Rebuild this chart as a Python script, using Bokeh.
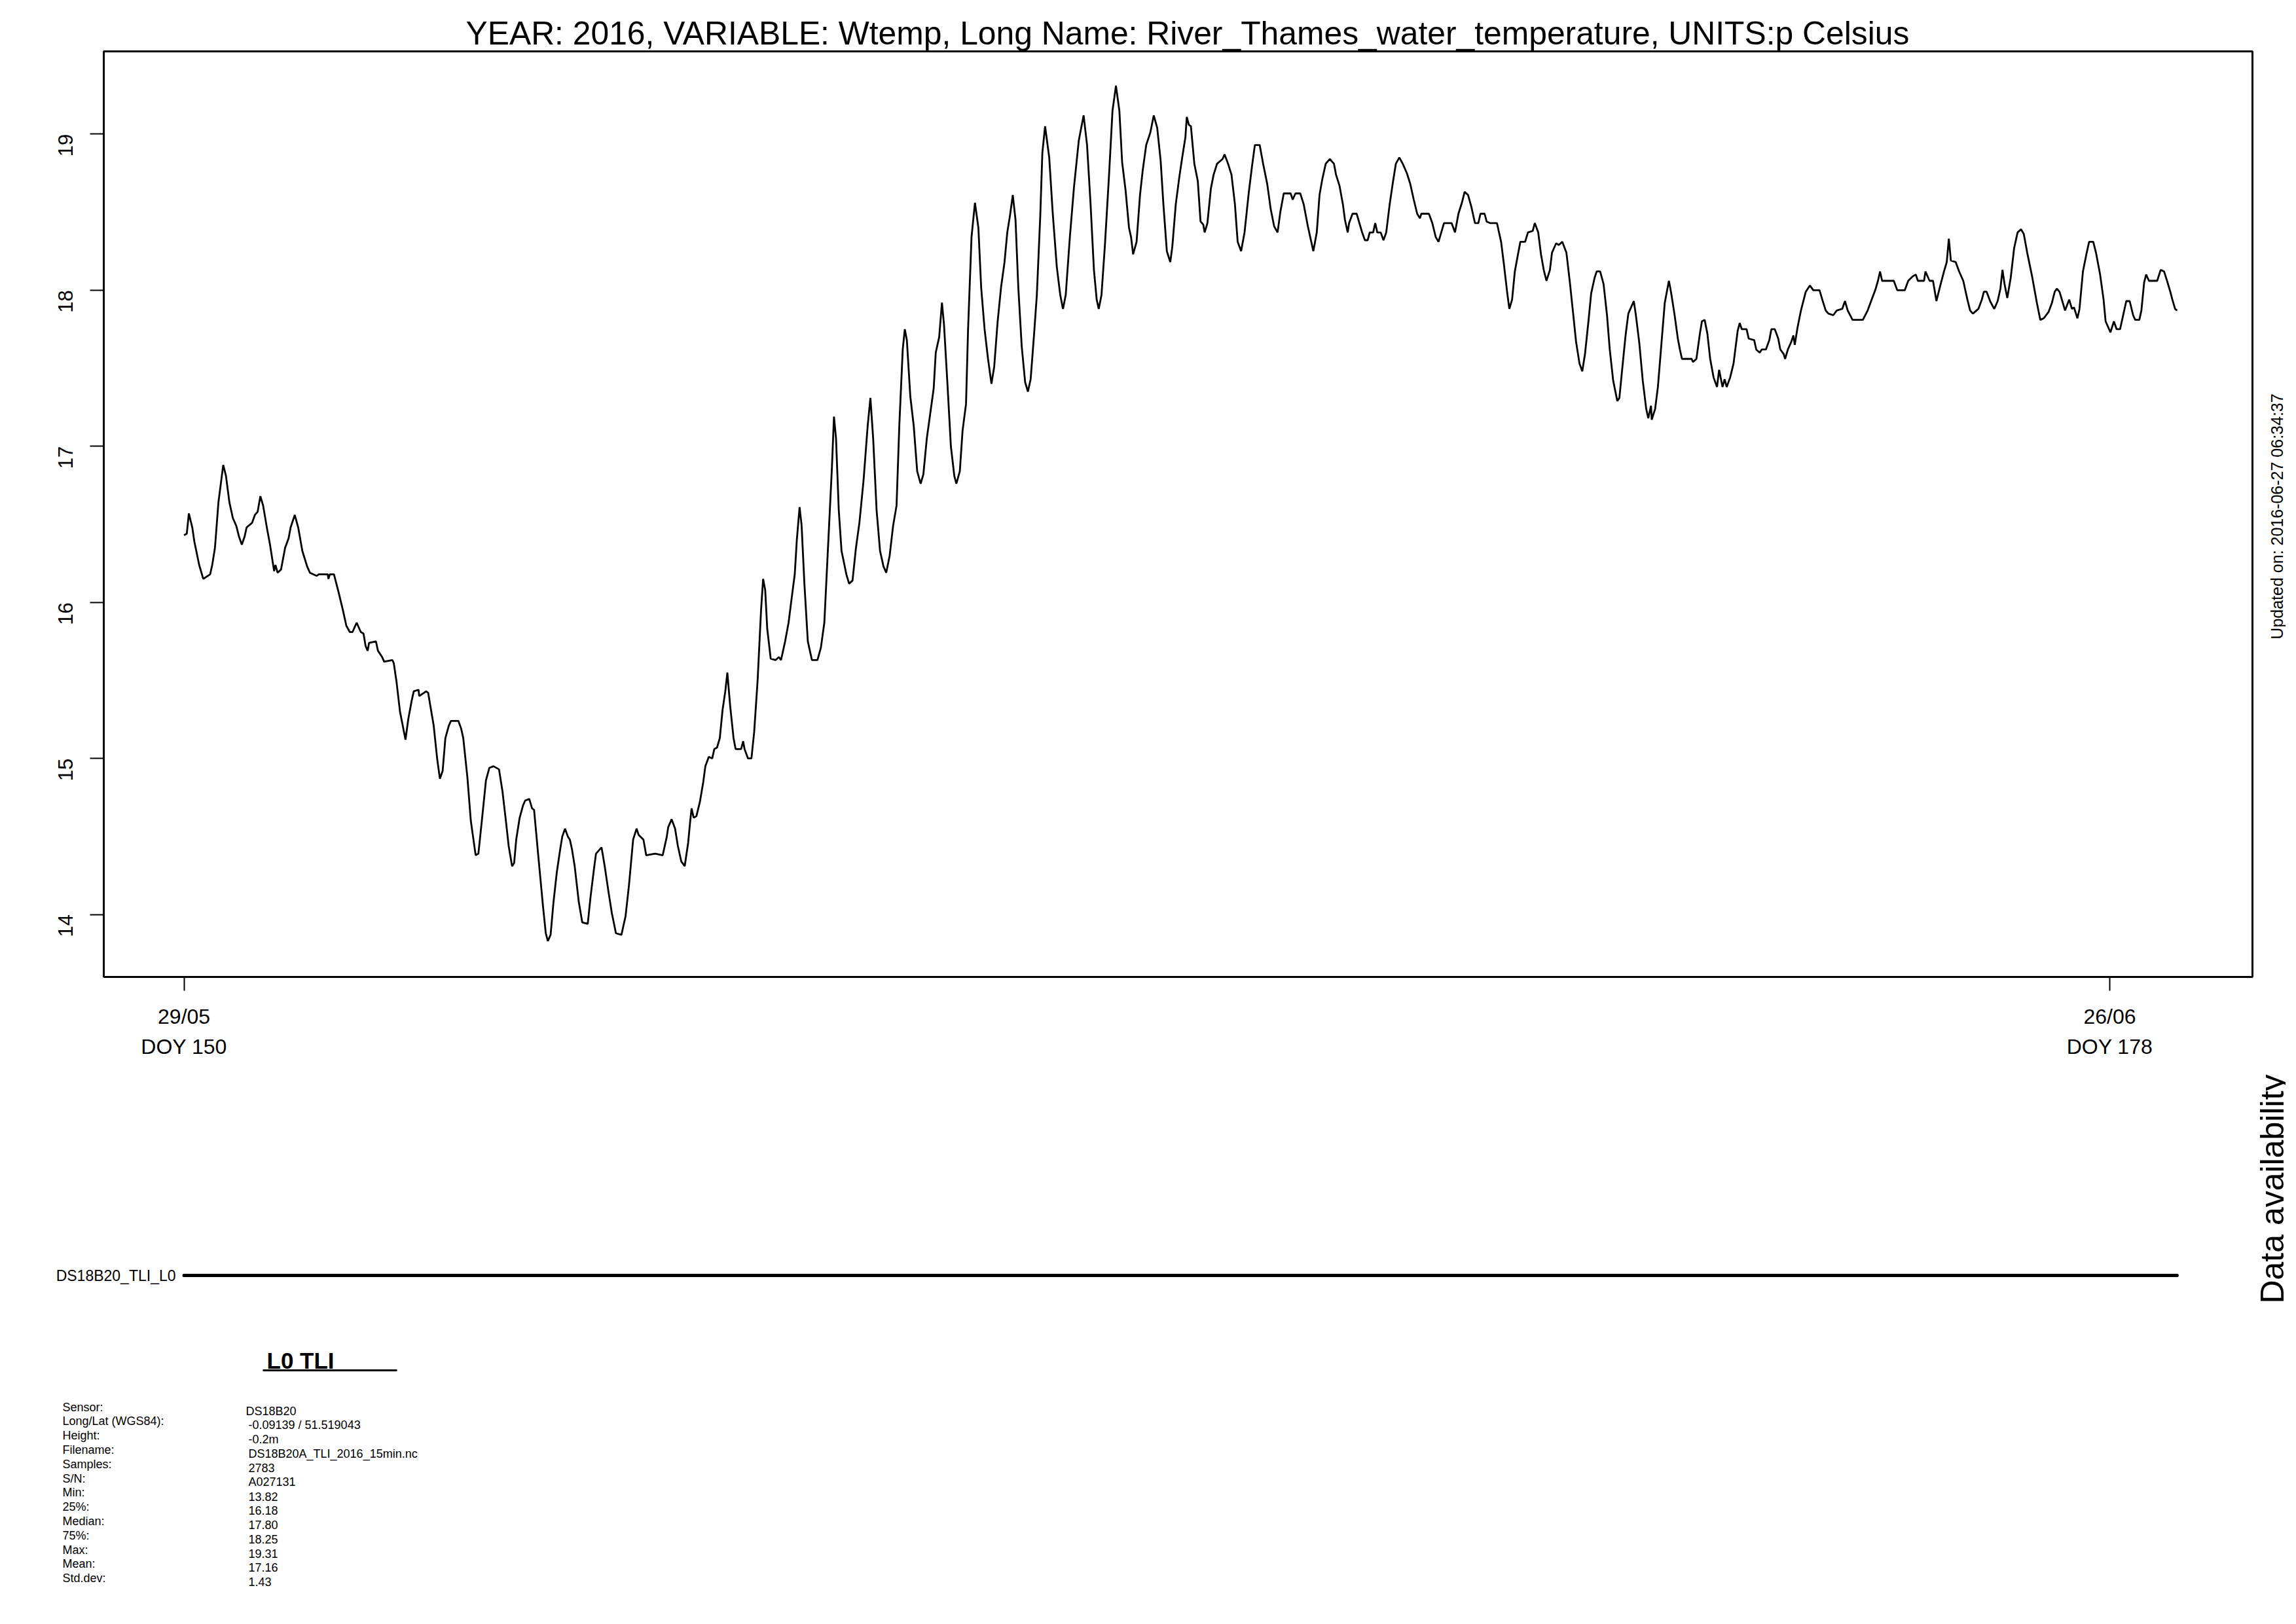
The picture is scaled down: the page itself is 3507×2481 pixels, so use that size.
import math
from bokeh.plotting import figure
from bokeh.models import Range1d, FixedTicker
from bokeh.layouts import column, row
from bokeh.embed import file_html
from bokeh.resources import INLINE
from bokeh.core.properties import value

# ---------------- data ----------------
DOY = [
150.00,150.04,150.07,150.12,150.15,150.22,150.28,150.38,150.41,150.45,150.50,150.57,150.61,150.66,150.71,150.76,150.80,150.84,150.88,150.91,
150.99,151.03,151.07,151.11,151.15,151.20,151.25,151.31,151.33,151.36,151.41,151.47,151.52,151.55,151.61,151.66,151.72,151.79,151.83,151.93,
151.96,152.09,152.10,152.12,152.18,152.25,152.31,152.36,152.41,152.45,152.51,152.57,152.61,152.64,152.67,152.69,152.79,152.82,152.88,152.91,
153.03,153.05,153.09,153.14,153.22,153.26,153.31,153.34,153.41,153.42,153.52,153.55,153.58,153.63,153.68,153.72,153.76,153.80,153.85,153.88,
153.99,154.03,154.06,154.12,154.17,154.24,154.28,154.33,154.39,154.44,154.50,154.58,154.63,154.68,154.72,
154.77,154.80,154.83,154.88,154.93,154.96,155.02,155.06,155.09,155.15,155.22,155.26,155.29,155.33,155.37,155.42,155.47,155.50,155.54,155.58,
155.61,155.64,155.68,155.74,155.79,155.87,155.91,155.96,155.99,156.03,156.07,156.09,156.12,156.17,156.22,156.28,156.36,156.42,156.47,156.53,
156.58,156.61,156.68,156.72,156.85,156.96,157.02,157.04,157.09,157.14,157.18,157.23,157.28,157.33,157.36,157.38,157.41,157.45,157.50,157.55,
157.58,157.63,157.68,157.71,157.75,157.79,157.83,157.87,157.90,157.94,157.99,158.02,158.10,158.13,158.15,158.20,158.25,158.29,158.34,158.39,
158.42,158.45,158.48,158.53,158.60,158.65,158.68,158.74,158.79,158.83,158.88,158.91,158.95,158.98,159.02,159.07,159.13,159.21,159.26,159.31,
159.36,
159.42,159.45,159.48,159.52,159.56,159.63,159.67,159.72,159.77,159.82,159.88,159.94,159.98,160.02,160.07,160.12,160.17,160.21,160.26,160.31,
160.36,160.40,160.45,160.48,160.51,160.56,160.61,160.66,160.71,160.75,160.80,160.85,160.90,160.93,160.98,161.02,161.05,161.10,161.15,161.20,
161.23,161.28,161.32,161.37,161.40,161.45,161.50,161.55,161.59,161.64,161.69,161.74,161.78,161.83,161.88,161.93,161.97,162.01,162.05,162.09,
162.13,162.18,162.23,162.27,162.31,162.36,162.40,162.45,162.48,162.52,162.58,162.63,162.69,162.74,162.78,162.82,162.88,162.94,163.01,163.08,
163.13,163.18,163.23,163.27,163.30,163.34,163.39,163.45,163.50,163.55,163.60,163.64,163.69,163.74,163.77,163.80,163.85,163.90,163.94,163.99,
164.05,164.10,164.15,164.20,
164.24,164.29,164.34,164.37,164.42,164.47,164.51,164.56,164.58,164.61,164.64,164.69,164.74,164.78,164.82,164.84,164.88,164.93,164.97,165.02,
165.10,165.13,165.18,165.23,165.28,165.32,165.37,165.42,165.48,165.53,165.57,165.61,165.64,165.69,165.75,165.80,165.85,165.90,165.94,165.99,
166.09,166.12,166.16,166.23,166.28,166.34,166.39,166.42,166.47,166.51,166.55,166.60,166.66,166.72,166.75,166.80,166.85,166.88,166.92,166.94,
166.99,167.05,167.09,167.13,167.17,167.21,167.24,167.29,167.32,167.35,167.40,167.44,167.48,167.53,167.58,167.62,167.67,167.72,167.78,167.83,
167.88,167.93,167.97,167.99,168.10,168.15,168.20,168.24,168.28,168.32,168.43,168.48,168.53,168.58,168.62,168.67,168.72,168.77,168.82,168.85,
168.91,168.94,168.99,169.09,
169.15,169.19,169.24,169.27,169.31,169.35,169.40,169.43,169.50,169.54,169.61,169.64,169.69,169.73,169.77,169.81,169.86,169.89,169.95,169.99,
170.04,170.10,170.15,170.20,170.24,170.29,170.33,170.37,170.42,170.46,170.51,170.54,170.59,170.64,170.69,170.73,170.78,170.84,170.87,170.91,
170.96,171.00,171.05,171.08,171.11,171.16,171.21,171.26,171.29,171.33,171.34,171.39,171.43,171.48,171.53,171.56,171.59,171.62,171.67,171.72,
171.75,171.78,171.92,171.94,171.99,172.04,172.07,172.11,172.15,172.19,172.24,172.29,172.32,172.37,172.40,172.43,172.48,172.53,172.59,172.62,
172.65,172.72,172.75,172.83,172.86,172.91,172.94,173.00,173.05,173.08,173.13,173.18,173.21,173.26,173.28,173.32,173.37,173.40,173.42,173.46,
173.51,173.58,173.64,173.69,
173.78,173.82,173.87,173.91,173.98,174.03,174.11,174.15,174.19,174.26,174.41,174.48,174.53,174.59,174.63,174.66,174.69,174.86,174.91,175.02,
175.07,175.14,175.18,175.21,175.30,175.32,175.38,175.43,175.48,175.53,175.59,175.63,175.66,175.69,175.76,175.81,175.87,175.93,175.97,176.01,
176.09,176.14,176.17,176.21,176.26,176.32,176.37,176.41,176.44,176.47,176.51,176.56,176.61,176.66,176.71,176.75,176.80,176.87,176.94,176.99,
177.04,177.11,177.16,177.20,177.23,177.27,177.31,177.35,177.41,177.45,177.48,177.53,177.56,177.61,177.66,177.70,177.76,177.80,177.86,177.91,
177.94,177.98,178.01,178.06,178.10,178.15,178.20,178.24,178.29,178.34,178.37,178.43,178.46,178.50,178.53,178.57,178.69,178.74,178.79,178.84,
178.88,178.91,178.95,178.98,
]

WTEMP = [
16.43,16.44,16.57,16.48,16.39,16.24,16.15,16.18,16.24,16.35,16.64,16.88,16.81,16.64,16.54,16.49,16.42,16.37,16.42,16.48,
16.51,16.56,16.58,16.68,16.62,16.49,16.37,16.20,16.24,16.19,16.21,16.35,16.41,16.48,16.56,16.48,16.33,16.23,16.19,16.17,
16.18,16.18,16.15,16.18,16.18,16.06,15.95,15.85,15.81,15.81,15.87,15.81,15.80,15.72,15.69,15.74,15.75,15.69,15.65,15.62,
15.63,15.61,15.49,15.30,15.12,15.25,15.37,15.43,15.44,15.40,15.43,15.42,15.34,15.21,15.00,14.87,14.92,15.13,15.21,15.24,
15.24,15.19,15.13,14.88,14.60,14.38,14.39,14.60,14.86,14.94,14.95,14.93,14.79,14.60,14.44,
14.31,14.33,14.48,14.62,14.70,14.73,14.74,14.68,14.67,14.38,14.05,13.88,13.83,13.87,14.07,14.27,14.42,14.50,14.55,14.50,
14.48,14.42,14.31,14.08,13.95,13.94,14.11,14.29,14.39,14.41,14.43,14.38,14.30,14.15,14.01,13.88,13.87,13.99,14.19,14.48,
14.55,14.51,14.48,14.38,14.39,14.38,14.50,14.56,14.61,14.55,14.44,14.34,14.31,14.46,14.60,14.68,14.62,14.63,14.72,14.85,
14.95,15.01,15.00,15.06,15.07,15.13,15.31,15.43,15.55,15.34,15.13,15.06,15.06,15.11,15.06,15.00,15.00,15.17,15.50,15.95,
16.15,16.08,15.83,15.64,15.63,15.65,15.63,15.75,15.87,16.01,16.18,16.40,16.61,16.49,16.12,15.75,15.63,15.63,15.71,15.87,
16.32,
16.86,17.19,17.05,16.59,16.33,16.18,16.12,16.14,16.35,16.51,16.78,17.13,17.31,17.05,16.59,16.33,16.23,16.19,16.30,16.49,
16.62,17.13,17.62,17.75,17.68,17.32,17.13,16.84,16.76,16.82,17.05,17.21,17.37,17.60,17.70,17.92,17.78,17.40,17.00,16.81,
16.76,16.84,17.10,17.27,17.75,18.34,18.56,18.40,18.02,17.75,17.56,17.40,17.51,17.80,18.02,18.18,18.37,18.48,18.61,18.45,
18.02,17.64,17.41,17.35,17.43,17.72,17.97,18.48,18.88,19.05,18.85,18.50,18.15,17.97,17.88,17.97,18.34,18.66,18.96,19.12,
18.93,18.56,18.13,17.94,17.88,17.97,18.29,18.74,19.15,19.31,19.15,18.82,18.64,18.40,18.34,18.23,18.31,18.61,18.77,18.93,
19.01,19.12,19.04,18.83,
18.55,18.25,18.18,18.28,18.55,18.72,18.84,18.98,19.11,19.06,19.05,18.81,18.70,18.44,18.42,18.37,18.43,18.65,18.74,18.81,
18.84,18.87,18.81,18.74,18.55,18.31,18.25,18.37,18.62,18.80,18.93,18.93,18.93,18.81,18.68,18.52,18.41,18.37,18.50,18.62,
18.62,18.58,18.62,18.62,18.55,18.41,18.31,18.25,18.37,18.61,18.71,18.81,18.84,18.81,18.74,18.67,18.55,18.45,18.37,18.43,
18.49,18.49,18.43,18.37,18.32,18.32,18.37,18.37,18.43,18.37,18.37,18.32,18.37,18.55,18.70,18.81,18.85,18.81,18.75,18.68,
18.58,18.49,18.46,18.49,18.49,18.43,18.34,18.31,18.37,18.43,18.43,18.37,18.49,18.56,18.63,18.61,18.53,18.43,18.43,18.49,
18.49,18.44,18.43,18.43,
18.31,18.17,17.98,17.88,17.94,18.12,18.24,18.31,18.31,18.37,18.38,18.43,18.37,18.23,18.13,18.06,18.13,18.24,18.30,18.29,
18.31,18.24,18.05,17.84,17.67,17.53,17.48,17.59,17.80,17.98,18.08,18.12,18.12,18.04,17.84,17.62,17.42,17.29,17.31,17.49,
17.71,17.85,17.90,17.93,17.84,17.66,17.42,17.24,17.18,17.26,17.17,17.24,17.38,17.65,17.92,17.99,18.06,17.99,17.85,17.69,
17.62,17.56,17.56,17.54,17.56,17.72,17.80,17.81,17.72,17.56,17.44,17.38,17.49,17.38,17.43,17.38,17.44,17.53,17.74,17.79,
17.75,17.75,17.69,17.68,17.62,17.60,17.62,17.62,17.68,17.75,17.75,17.69,17.62,17.59,17.56,17.62,17.67,17.71,17.65,17.76,
17.87,17.99,18.03,18.00,
18.00,17.94,17.87,17.85,17.84,17.87,17.88,17.93,17.87,17.81,17.81,17.87,17.93,18.00,18.06,18.12,18.06,18.06,18.00,18.00,
18.06,18.09,18.10,18.06,18.06,18.12,18.06,18.06,17.93,18.02,18.12,18.18,18.33,18.19,18.18,18.12,18.06,17.94,17.87,17.85,
17.88,17.94,17.99,17.99,17.93,17.88,17.93,18.01,18.13,18.04,17.95,18.08,18.27,18.37,18.39,18.36,18.24,18.09,17.92,17.81,
17.82,17.86,17.92,17.99,18.01,17.99,17.93,17.87,17.94,17.88,17.89,17.82,17.88,18.12,18.23,18.31,18.31,18.24,18.10,17.94,
17.80,17.76,17.73,17.80,17.75,17.75,17.85,17.93,17.93,17.84,17.81,17.81,17.87,18.05,18.10,18.06,18.06,18.13,18.12,18.05,
17.99,17.94,17.88,17.87,
]

TITLE = "YEAR: 2016, VARIABLE: Wtemp, Long Name: River_Thames_water_temperature, UNITS:p Celsius"
UPDATED = "Updated on: 2016-06-27 06:34:37"
Y_TICKS = [14, 15, 16, 17, 18, 19]
X_TICKS = [150, 178]
X_TICK_DATES = ["29/05", "26/06"]
SERIES_NAME = "DS18B20_TLI_L0"
AVAIL_TITLE = "Data availability"
PANEL_TITLE = "L0 TLI"
INFO_LABELS = ["Sensor:", "Long/Lat (WGS84):", "Height:", "Filename:", "Samples:", "S/N:",
               "Min:", "25%:", "Median:", "75%:", "Max:", "Mean:", "Std.dev:"]
INFO_VALUES = ["DS18B20", "-0.09139 / 51.519043", "-0.2m", "DS18B20A_TLI_2016_15min.nc", "2783",
               "A027131", "13.82", "16.18", "17.80", "18.25", "19.31", "17.16", "1.43"]

FONT = value("Liberation Sans")
TOP_H = 1620  # height of the upper (plot) row

# ---------------- main plot ----------------
p = figure(width=3444, height=TOP_H,
           x_range=Range1d(148.833, 180.075), y_range=Range1d(13.60, 19.53),
           output_backend="svg", toolbar_location=None,
           min_border_left=158, min_border_right=4, min_border_top=78,
           min_border_bottom=TOP_H - 1496)
p.line(DOY, WTEMP, line_color="black", line_width=2.8)
p.outline_line_color = "black"
p.outline_line_width = 3
p.xgrid.visible = False
p.ygrid.visible = False

p.title.text = TITLE
p.title.align = "left"
p.title.text_font = "Liberation Sans"
p.title.text_font_size = "49.8px"
p.title.text_font_style = "normal"
p.title.text_color = "black"
p.title.standoff = 0
p.title.offset = 553

xa = p.xaxis[0]
xa.ticker = FixedTicker(ticks=X_TICKS)
xa.major_label_overrides = {t: f"{d}\nDOY {t}" for t, d in zip(X_TICKS, X_TICK_DATES)}
xa.axis_line_color = None
xa.major_tick_in = 0
xa.major_tick_out = 21
xa.major_tick_line_width = 2
xa.major_tick_line_color = "black"
xa.minor_tick_line_color = None
xa.major_label_text_font = "Liberation Sans"
xa.major_label_text_font_size = "32px"
xa.major_label_text_color = "black"
xa.major_label_text_line_height = 1.3
xa.major_label_standoff = 21

ya = p.yaxis[0]
ya.ticker = FixedTicker(ticks=Y_TICKS)
ya.axis_line_color = None
ya.major_tick_in = 0
ya.major_tick_out = 21
ya.major_tick_line_width = 2
ya.major_tick_line_color = "black"
ya.minor_tick_line_color = None
ya.major_label_orientation = math.pi / 2
ya.major_label_text_font = "Liberation Sans"
ya.major_label_text_font_size = "31px"
ya.major_label_text_color = "black"
ya.major_label_standoff = 37

# ---------------- right strip: update stamp ----------------
r = figure(width=47, height=TOP_H, x_range=Range1d(3444, 3491), y_range=Range1d(-TOP_H, 0),
           output_backend="svg", toolbar_location=None, min_border=0,
           x_axis_type=None, y_axis_type=None)
r.outline_line_color = None
r.text(x=[3477], y=[-814], text=[UPDATED], angle=math.pi / 2,
       text_font=FONT, text_font_size="25px", text_color="black",
       text_align="center", text_baseline="alphabetic")

# ---------------- bottom: availability + info ----------------
q = figure(width=3491, height=2440 - TOP_H, x_range=Range1d(147.329, 180.561),
           y_range=Range1d(-2440, -TOP_H),
           output_backend="svg", toolbar_location=None, min_border=0,
           x_axis_type=None, y_axis_type=None)
q.extra_x_ranges = {"px": Range1d(0, 3491)}
q.outline_line_color = None
q.segment(x0=[DOY[0]], x1=[DOY[-1]], y0=[-1948], y1=[-1948],
          line_color="black", line_width=5, line_cap="round")
q.text(x=[268], y=[-1948], text=[SERIES_NAME], x_range_name="px",
       text_font=FONT, text_font_size="23px", text_color="black",
       text_align="right", text_baseline="middle")
q.text(x=[3470], y=[-1816], text=[AVAIL_TITLE], x_range_name="px", angle=math.pi / 2,
       text_font=FONT, text_font_size="50px", text_color="black",
       text_align="center", text_baseline="alphabetic")
q.text(x=[407], y=[-2078], text=[PANEL_TITLE], x_range_name="px",
       text_font=FONT, text_font_size="35px", text_font_style="bold", text_color="black",
       text_align="left", text_baseline="middle")
q.segment(x0=[401], x1=[606], y0=[-2093], y1=[-2093], x_range_name="px",
          line_color="black", line_width=3)
n = len(INFO_LABELS)
q.text(x=[95] * n, y=[-(2149 + 21.8 * i) for i in range(n)], text=INFO_LABELS, x_range_name="px",
       text_font=FONT, text_font_size="18px", text_color="black",
       text_align="left", text_baseline="middle")
q.text(x=[375] + [379] * (n - 1), y=[-(2155 + 21.75 * i) for i in range(n)], text=INFO_VALUES,
       x_range_name="px", text_font=FONT, text_font_size="18px", text_color="black",
       text_align="left", text_baseline="middle")

layout = column(row(p, r), q)
open("out.html", "w").write(file_html(layout, INLINE))
